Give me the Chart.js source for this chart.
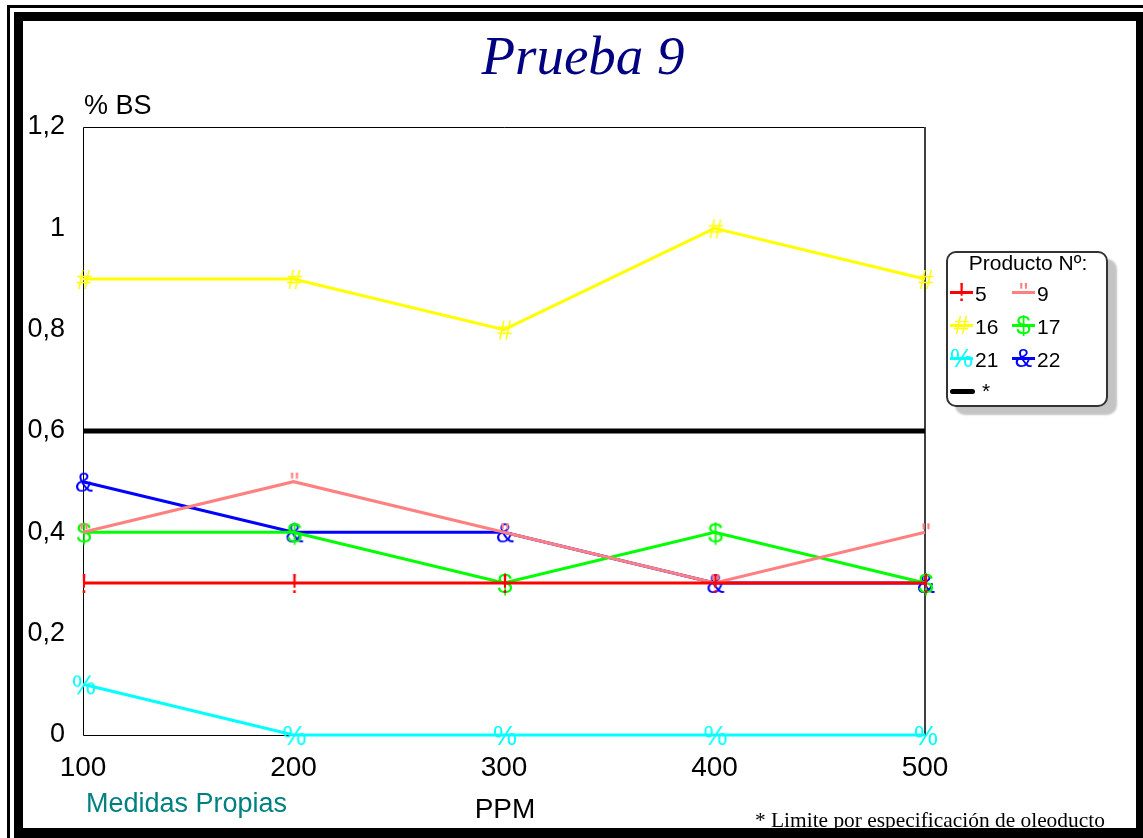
<!DOCTYPE html>
<html lang="es">
<head>
<meta charset="UTF-8">
<title>Prueba 9</title>
<script src="https://cdn.jsdelivr.net/npm/chart.js"></script>
<style>
  body { margin: 0; background: #fff; font-family: "Liberation Sans", Arial, sans-serif; }
  #page { position: relative; width: 1143px; height: 838px; overflow: hidden; background: #fff; }
  .frame-outer { position: absolute; left: 7px; top: 5px; width: 1200px; height: 900px;
                 border-left: 3px solid #000; border-top: 3px solid #000; }
  .frame-inner { position: absolute; left: 14px; top: 12px; right: 0; bottom: 0; box-sizing: border-box;
                 border-left: 9px solid #000; border-top: 9px solid #000;
                 border-right: 7px solid #000; border-bottom: 10px solid #000; background: #fff; }
  #chart { position: absolute; left: 0; top: 0; }
  .txt { position: absolute; line-height: 1; white-space: nowrap; }
  .title { left: 383px; width: 400px; top: 24px; text-align: center; font: italic 55px "Liberation Serif", "Times New Roman", serif; color: #000080; }
  .ylab { left: 84px; top: 92px; font-size: 27px; color: #000; }
  .medidas { left: 86px; top: 790px; font-size: 27px; color: #008080; }
  .ppm { left: 405px; width: 200px; text-align: center; top: 795px; font-size: 28px; color: #000; }
  .nota { left: 755px; top: 808px; font: 21.4px "Liberation Serif", "Times New Roman", serif; color: #000; }
  .legend-box { position: absolute; left: 946px; top: 251px; width: 162px; height: 156px; box-sizing: border-box;
                border: 2px solid #333; border-radius: 10px; background: #fff; box-shadow: 9px 8px 2px #c4c4c4; }
  .leg-title { left: 928px; width: 200px; text-align: center; top: 252px; font-size: 21px; }
  .leg-line { position: absolute; height: 3px; }
  .leg-mark { position: absolute; width: 26px; text-align: center; line-height: 1; font-size: 26px; }
  .leg-text { position: absolute; line-height: 1; font-size: 21px; }
</style>
</head>
<body>
<div id="page">
  <div class="frame-outer"></div>
  <div class="frame-inner"></div>
  <canvas id="chart" width="1143" height="838"></canvas>
  <div class="txt title">Prueba 9</div>
  <div class="txt ylab">% BS</div>
  <div class="txt medidas">Medidas Propias</div>
  <div class="txt ppm">PPM</div>
  <div class="txt nota">* Limite por especificación de oleoducto</div>
  <div class="legend-box"></div>
  <div class="txt leg-title">Producto Nº:</div>
  <div id="legend"></div>
</div>

<script>
  // categorias (PPM) y valores
  const ppm = ['100', '200', '300', '400', '500'];
  const yTickValues = [0, 0.2, 0.4, 0.6, 0.8, 1, 1.2];

  const prod5  = [0.3, 0.3, 0.3, 0.3, 0.3];
  const prod9  = [0.4, 0.5, 0.4, 0.3, 0.4];
  const prod16 = [0.9, 0.9, 0.8, 1.0, 0.9];
  const prod17 = [0.4, 0.4, 0.3, 0.4, 0.3];
  const prod21 = [0.1, 0, 0, 0, 0];
  const prod22 = [0.5, 0.4, 0.4, 0.3, 0.3];
  const limite = [0.6, 0.6, 0.6, 0.6, 0.6];

  const names   = ['5', '9', '16', '17', '21', '22'];
  const colors  = ['#ff0000', '#ff8080', '#ffff00', '#00ff00', '#00ffff', '#0000ff'];
  const markers = ['!', '"', '#', '$', '%', '&'];
  const values  = [prod5, prod9, prod16, prod17, prod21, prod22];

  // marker = caracter dibujado en un canvas pequeño
  function makeMarker(ch, color) {
    const size = 27;
    const c = document.createElement('canvas');
    c.width = 36; c.height = 40;
    const g = c.getContext('2d');
    g.font = size + 'px "Liberation Sans", Arial';
    g.fillStyle = color;
    g.textAlign = 'center';
    g.textBaseline = 'alphabetic';
    g.fillText(ch, 19, 20 + 0.36 * size);
    return c;
  }

  const datasets = values.map((v, i) => ({
    label: names[i],
    data: v,
    borderColor: colors[i],
    backgroundColor: colors[i],
    borderWidth: 3,
    tension: 0,
    pointStyle: makeMarker(markers[i], colors[i]),
    pointRadius: 10,
    clip: false
  }));
  datasets.push({
    label: '*',
    data: limite,
    borderColor: '#000',
    borderWidth: 5,
    pointRadius: 0,
    clip: false
  });

  // marco del area de trazado
  const plotFrame = {
    id: 'plotFrame',
    beforeDatasetsDraw(chart) {
      const a = chart.chartArea, ctx = chart.ctx;
      ctx.save();
      ctx.strokeStyle = '#000';
      ctx.lineWidth = 1;
      ctx.beginPath();
      ctx.moveTo(a.right, a.top + 0.5);
      ctx.lineTo(a.left + 0.5, a.top + 0.5);
      ctx.lineTo(a.left + 0.5, a.bottom + 0.5);
      ctx.lineTo(a.right, a.bottom + 0.5);
      ctx.stroke();
      ctx.strokeStyle = '#404040';
      ctx.lineWidth = 2;
      ctx.beginPath();
      ctx.moveTo(a.right, a.top);
      ctx.lineTo(a.right, a.bottom + 1);
      ctx.stroke();
      ctx.restore();
    }
  };

  new Chart(document.getElementById('chart'), {
    type: 'line',
    data: { labels: ppm, datasets: datasets },
    options: {
      responsive: false,
      animation: false,
      layout: { padding: { left: 0, top: 127, right: 218, bottom: 0 } },
      plugins: { legend: { display: false }, tooltip: { enabled: false } },
      scales: {
        x: {
          offset: false,
          grid: { display: false, drawTicks: false },
          border: { display: false },
          ticks: { color: '#000', font: { family: '"Liberation Sans", Arial', size: 28 }, padding: 16, maxRotation: 0 },
          afterFit: s => { s.height = 103; }
        },
        y: {
          min: 0, max: 1.2,
          grid: { display: false, drawTicks: false },
          border: { display: false },
          afterBuildTicks: s => { s.ticks = yTickValues.map(v => ({ value: v })); },
          ticks: {
            color: '#000',
            font: { family: '"Liberation Sans", Arial', size: 27 },
            padding: 18,
            callback: v => String(Math.round(v * 10) / 10).replace('.', ',')
          },
          afterFit: s => { s.width = 83; }
        }
      }
    },
    plugins: [plotFrame]
  });

  // leyenda
  const legend = document.getElementById('legend');
  const colX = [950, 1012];
  const rowY = [292, 325, 358];
  names.forEach((n, i) => {
    const x = colX[i % 2], y = rowY[Math.floor(i / 2)];
    const line = document.createElement('div');
    line.className = 'leg-line';
    line.style.cssText = `left:${x}px;top:${y - 1.5}px;width:23px;background:${colors[i]}`;
    legend.appendChild(line);
    const m = document.createElement('div');
    m.className = 'leg-mark';
    m.textContent = markers[i];
    m.style.cssText = `left:${x - 1.5}px;top:${y - 12.6}px;color:${colors[i]}`;
    legend.appendChild(m);
    const t = document.createElement('div');
    t.className = 'leg-text';
    t.textContent = n;
    t.style.cssText = `left:${x + 25}px;top:${y - 9.5}px`;
    legend.appendChild(t);
  });
  const lim = document.createElement('div');
  lim.className = 'leg-line';
  lim.style.cssText = 'left:950px;top:388.5px;width:25px;height:5px;border-radius:3px;background:#000';
  legend.appendChild(lim);
  const limT = document.createElement('div');
  limT.className = 'leg-text';
  limT.textContent = '*';
  limT.style.cssText = 'left:982px;top:380px';
  legend.appendChild(limT);
</script>
</body>
</html>
